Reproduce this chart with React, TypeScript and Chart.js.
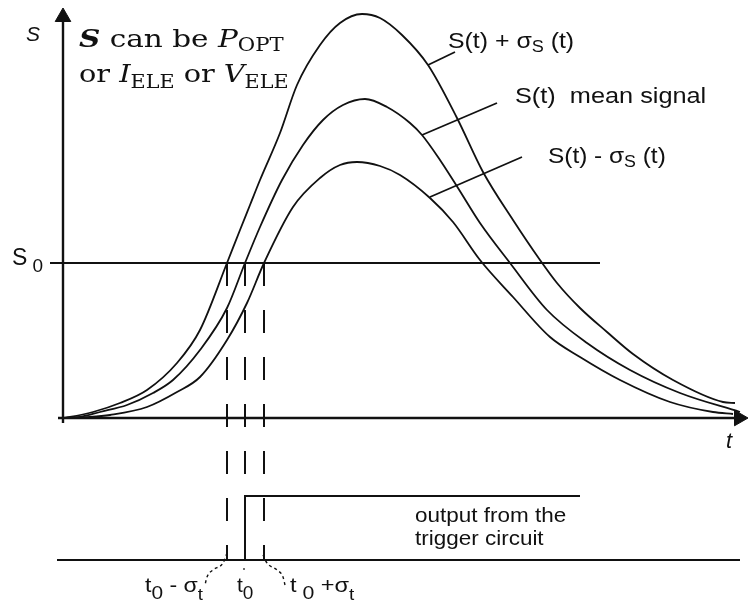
import { useEffect, useRef } from "react";
import { Chart, registerables } from "chart.js";

Chart.register(...registerables);

// Threshold level and the times at which each curve crosses it
const S0 = 155;
const T_EARLY = 227;
const T0 = 245;
const T_LATE = 264;

// Trigger output levels
const LOW = -142;
const HIGH = -78;

// S(t) + sigma_S(t)
const upperT = [63, 70, 93, 120, 147, 177, 200, 227, 240, 250, 260, 280, 297, 320, 340, 362, 380, 402, 428, 457, 483, 513, 540, 557, 580, 607, 633, 673, 723, 735];
const upperS = [0, 1, 6, 15, 28, 55, 88, 155, 188, 213, 238, 285, 333, 373, 395, 404, 400, 383, 353, 300, 246, 198, 158, 135, 110, 86, 64, 38, 16, 15];

// S(t), mean signal
const meanT = [63, 80, 100, 127, 153, 173, 200, 227, 245, 260, 282, 303, 323, 343, 365, 387, 410, 422, 440, 458, 480, 510, 547, 587, 630, 680, 740];
const meanS = [0, 1, 6, 13, 25, 38, 68, 110, 155, 191, 238, 273, 298, 313, 319, 311, 295, 283, 258, 230, 195, 155, 108, 75, 48, 25, 6];

// S(t) - sigma_S(t)
const lowerT = [63, 90, 110, 147, 177, 200, 227, 247, 264, 293, 320, 340, 357, 380, 400, 430, 453, 480, 513, 550, 580, 620, 670, 713, 733];
const lowerS = [0, 1, 3, 11, 26, 41, 78, 115, 155, 211, 240, 253, 256, 252, 243, 220, 196, 158, 121, 81, 61, 38, 16, 6, 4];

// Curly leaders from the time labels to the dashed markers
const leftLeadT = [227, 223, 213, 207, 205];
const leftLeadS = [-135, -145, -152, -159, -167];
const rightLeadT = [263, 267, 277, 283, 285];
const rightLeadS = [-137, -145, -152, -159, -167];

const zip = (ts: number[], ss: number[]) => ts.map((t, i) => ({ x: t, y: ss[i] }));
const seg = (x1: number, y1: number, x2: number, y2: number) => [
  { x: x1, y: y1 },
  { x: x2, y: y2 },
];

const INK = "#111";
const SANS = '"Liberation Sans", Arial, sans-serif';
const SERIF = '"DejaVu Serif", serif';

type Run = { text: string; font: string; dy?: number };

function drawRuns(ctx: CanvasRenderingContext2D, x: number, y: number, runs: Run[], sx = 1) {
  ctx.save();
  ctx.translate(x, y);
  ctx.scale(sx, 1);
  ctx.fillStyle = INK;
  ctx.textBaseline = "alphabetic";
  ctx.textAlign = "left";
  let cx = 0;
  for (const r of runs) {
    ctx.font = r.font;
    ctx.fillText(r.text, cx, r.dy ?? 0);
    cx += ctx.measureText(r.text).width;
  }
  ctx.restore();
}

const labelsPlugin = {
  id: "diagramLabels",
  afterDatasetsDraw(chart: any) {
    const ctx: CanvasRenderingContext2D = chart.ctx;
    const xs = chart.scales.x;
    const ys = chart.scales.y;
    const at = (t: number, s: number): [number, number] => [xs.getPixelForValue(t), ys.getPixelForValue(s)];
    const sans = (n: number, style = "") => `${style} ${n}px ${SANS}`.trim();
    const serif = (n: number, style = "") => `${style} ${n}px ${SERIF}`.trim();

    // axis names
    let [px, py] = at(26, 377);
    drawRuns(ctx, px, py, [{ text: "S", font: sans(21, "italic") }]);
    [px, py] = at(726, -30);
    drawRuns(ctx, px, py, [{ text: "t", font: sans(22, "italic") }]);

    // threshold label
    [px, py] = at(12, 153);
    drawRuns(ctx, px, py, [
      { text: "S", font: sans(23) },
      { text: " 0", font: sans(19), dy: 7 },
    ]);

    // note on what S stands for
    [px, py] = at(79, 371);
    drawRuns(ctx, px, py, [
      { text: "S", font: serif(25, "bold italic") },
      { text: " can be ", font: serif(25) },
      { text: "P", font: serif(25, "italic") },
      { text: "OPT", font: serif(18), dy: 4 },
    ], 1.18);
    [px, py] = at(79, 336);
    drawRuns(ctx, px, py, [
      { text: "or ", font: serif(25) },
      { text: "I", font: serif(25, "italic") },
      { text: "ELE", font: serif(18), dy: 6 },
      { text: " or ", font: serif(25) },
      { text: "V", font: serif(25, "italic") },
      { text: "ELE", font: serif(18), dy: 6 },
    ], 1.15);

    // curve names
    [px, py] = at(448, 370);
    drawRuns(ctx, px, py, [
      { text: "S(t) + ", font: sans(22) },
      { text: "σ", font: sans(22) },
      { text: "S", font: sans(16), dy: 4 },
      { text: " (t)", font: sans(22) },
    ], 1.13);
    [px, py] = at(515, 315);
    drawRuns(ctx, px, py, [{ text: "S(t)  mean signal", font: sans(22) }], 1.15);
    [px, py] = at(548, 255);
    drawRuns(ctx, px, py, [
      { text: "S(t) - ", font: sans(22) },
      { text: "σ", font: sans(22) },
      { text: "S", font: sans(16), dy: 4 },
      { text: " (t)", font: sans(22) },
    ], 1.11);

    // trigger output note
    [px, py] = at(415, -104);
    drawRuns(ctx, px, py, [{ text: "output from the", font: sans(21) }], 1.07);
    [px, py] = at(415, -127);
    drawRuns(ctx, px, py, [{ text: "trigger circuit", font: sans(21) }], 1.07);

    // time markers
    [px, py] = at(145, -174);
    drawRuns(ctx, px, py, [
      { text: "t", font: sans(21) },
      { text: "0", font: sans(19), dy: 7 },
      { text: " - ", font: sans(21) },
      { text: "σ", font: sans(21) },
      { text: "t", font: sans(17), dy: 8 },
    ], 1.1);
    [px, py] = at(237, -174);
    drawRuns(ctx, px, py, [
      { text: "t", font: sans(21) },
      { text: "0", font: sans(19), dy: 7 },
    ]);
    [px, py] = at(290, -174);
    drawRuns(ctx, px, py, [
      { text: "t", font: sans(21) },
      { text: " 0", font: sans(19), dy: 7 },
      { text: " +", font: sans(21) },
      { text: "σ", font: sans(21) },
      { text: "t", font: sans(17), dy: 8 },
    ], 1.12);
  },
};

export default function App() {
  const canvasRef = useRef<HTMLCanvasElement | null>(null);

  useEffect(() => {
    const canvas = canvasRef.current;
    if (!canvas) return;

    const line = (data: { x: number; y: number }[], width: number, extra: any = {}) => ({
      data,
      showLine: true,
      borderColor: INK,
      backgroundColor: INK,
      borderWidth: width,
      pointRadius: 0,
      pointHoverRadius: 0,
      tension: 0,
      clip: false,
      ...extra,
    });

    const curve = (ts: number[], ss: number[]) =>
      line(zip(ts, ss), 1.8, { cubicInterpolationMode: "monotone" });

    const dashed = (t: number) => line(seg(t, S0, t, LOW), 2, { borderDash: [23, 24] });

    const arrow = (t: number, s: number, rot: number) => ({
      data: [{ x: t, y: s }],
      showLine: false,
      pointStyle: "triangle",
      pointRadius: 9,
      pointRotation: rot,
      pointBackgroundColor: INK,
      pointBorderColor: INK,
      pointBorderWidth: 1,
      clip: false,
    });

    const chart = new Chart(canvas, {
      type: "scatter",
      data: {
        datasets: [
          // axes
          line(seg(63, -5, 63, 400), 2.4),
          arrow(63, 401, 0),
          line(seg(58, 0, 736, 0), 2.4),
          arrow(739, 0, 90),
          // threshold
          line(seg(50, S0, 600, S0), 2),
          // signal curves
          curve(upperT, upperS),
          curve(meanT, meanS),
          curve(lowerT, lowerS),
          // leaders to the curve names
          line(seg(428, 353, 455, 366), 1.8),
          line(seg(422, 283, 497, 315), 1.8),
          line(seg(430, 221, 522, 261), 1.8),
          // crossing-time markers
          dashed(T_EARLY),
          dashed(T0),
          dashed(T_LATE),
          // trigger output
          line(seg(57, LOW, 740, LOW), 2),
          line([{ x: T0, y: LOW }, { x: T0, y: HIGH }, { x: 580, y: HIGH }], 2),
          line(seg(T0 - 1, LOW - 8, T0 - 1, LOW - 10), 1.2),
          // leaders to the time labels
          line(zip(leftLeadT, leftLeadS), 1.4, { borderDash: [3, 3], cubicInterpolationMode: "monotone" }),
          line(zip(rightLeadT, rightLeadS), 1.4, { borderDash: [3, 3], cubicInterpolationMode: "monotone" }),
        ],
      },
      options: {
        animation: false,
        responsive: true,
        maintainAspectRatio: false,
        layout: { padding: 0, autoPadding: false },
        events: [],
        plugins: {
          legend: { display: false },
          tooltip: { enabled: false },
        },
        scales: {
          x: { type: "linear", display: false, min: 0, max: 748 },
          y: { type: "linear", display: false, min: -195, max: 418 },
        },
      },
      plugins: [labelsPlugin],
    });

    return () => chart.destroy();
  }, []);

  return (
    <div
      style={{
        position: "fixed",
        left: 0,
        top: 0,
        width: 748,
        height: 613,
        background: "#fff",
      }}
    >
      <canvas ref={canvasRef} />
    </div>
  );
}
